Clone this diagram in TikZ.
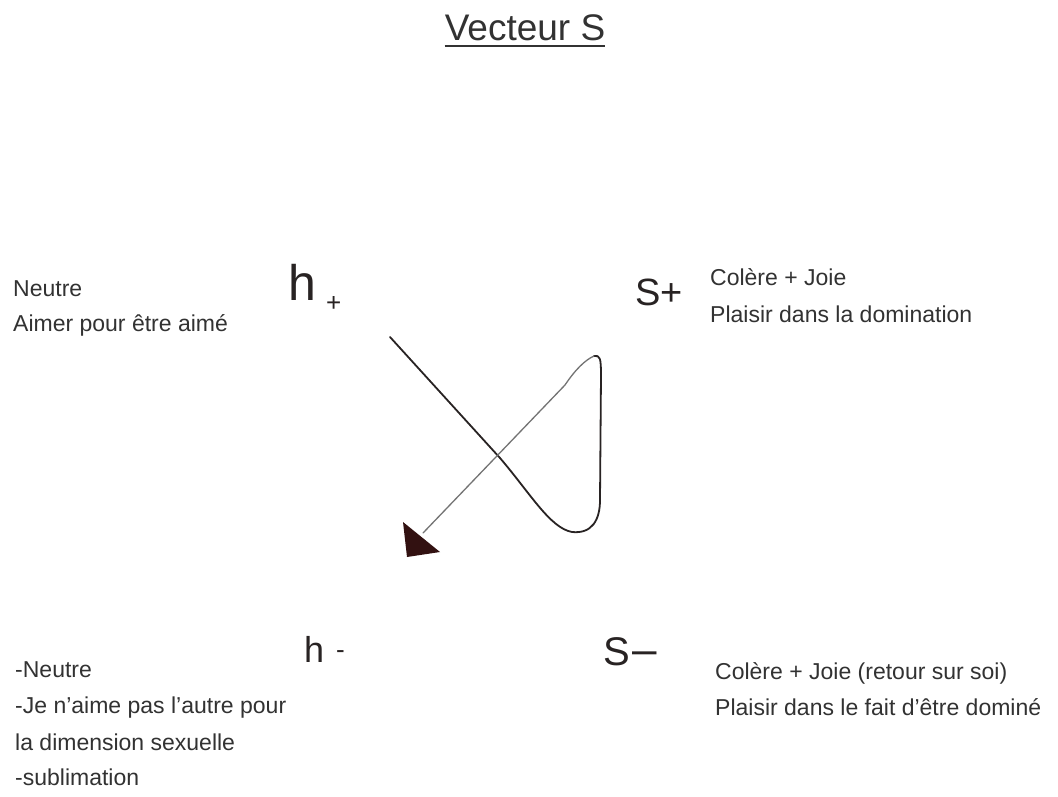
\documentclass[tikz,border=0pt]{standalone}
\usepackage{fontspec}
\setmainfont{Liberation Sans}
\definecolor{ink}{RGB}{50,50,50}
\definecolor{pen}{RGB}{40,35,35}
\begin{document}
\begin{tikzpicture}[x=1pt,y=-1pt,
  lbl/.style={anchor=base west,inner sep=0pt,font=\fontsize{23}{26}\selectfont,text=ink},
  hand/.style={anchor=base west,inner sep=0pt,text=pen},
  stroke/.style={line width=1.8pt,draw=pen,line cap=round,line join=round}]
\useasboundingbox (0,0) rectangle (1058,796);
\fill[white] (0,0) rectangle (1058,796);
% title
\node[anchor=base,inner sep=0pt,font=\fontsize{37}{40}\selectfont,text=ink] (title) at (525,40) {Vecteur S};
\draw[line width=1.6pt,ink] ([yshift=-6pt]title.base west) -- ([yshift=-6pt]title.base east);
% left top
\node[lbl] (n1) at (13,296) {Neutre};
\node[lbl] (n2) at (13,331) {Aimer pour être aimé};
% right top
\node[lbl] (c1) at (710,285) {Colère + Joie};
\node[lbl] (c2) at (710,322) {Plaisir dans la domination};
% bottom left
\node[lbl] (b1) at (15,677) {-Neutre};
\node[lbl] (b2) at (15,713) {-Je n’aime pas l’autre pour};
\node[lbl] (b3) at (15,750) {la dimension sexuelle};
\node[lbl] (b4) at (15,785) {-sublimation};
% bottom right
\node[lbl] (d1) at (715,679) {Colère + Joie (retour sur soi)};
\node[lbl] (d2) at (715,715) {Plaisir dans le fait d’être dominé};
% handwritten poles
\node[hand,font=\fontsize{50}{52}\selectfont] (hp) at (288,300) {h};
\node[hand,font=\fontsize{26}{28}\selectfont] (hps) at (326,311) {+};
\node[hand,font=\fontsize{38}{40}\selectfont] (sp) at (635,305) {S+};
\node[hand,font=\fontsize{36}{38}\selectfont] (hm) at (304,662) {h};
\node[hand,font=\fontsize{26}{28}\selectfont] (hms) at (336,658) {-};
\node[hand,font=\fontsize{40}{42}\selectfont] (sm) at (603,665) {S};
\node[hand,font=\fontsize{44}{46}\selectfont] (sms) at (632,664) {–};
% curve
\coordinate (start) at (390,337);
\coordinate (tip) at (594,356);
\coordinate (head) at (423,533);
\draw[stroke] (start) -- (500,458) .. controls (530,493) and (550,528) .. (572,532)
  .. controls (592,534) and (600,520) .. (600,500)
  -- (601,375) .. controls (601,358) and (600,355) .. (tip);
\draw[stroke,line width=1.3pt,draw=black!55] (tip) .. controls (585,360) and (575,370) .. (565,385) -- (head);
\fill[pen!80!red!60!black] (403,522) -- (440,552) -- (407,557) -- cycle;
\end{tikzpicture}
\end{document}
